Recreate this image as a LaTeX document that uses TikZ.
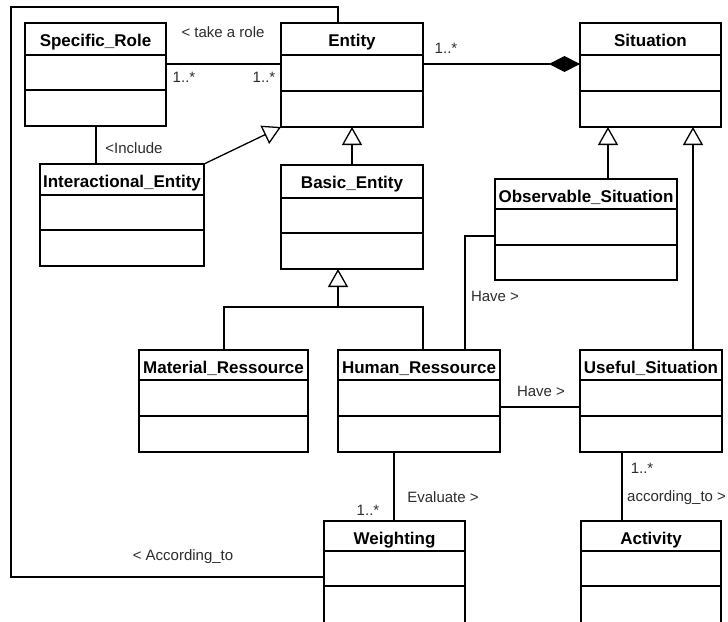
\documentclass[tikz,border=0pt]{standalone}
\usepackage{fontspec}
\setmainfont{Liberation Sans}
\usetikzlibrary{arrows.meta}
\definecolor{lblgray}{RGB}{45,45,45}
\tikzset{
  classbox/.style={draw=black, line width=1.4pt, fill=white, inner sep=0pt, outer sep=0pt},
  boxline/.style={draw=black, line width=1.4pt},
  clstitle/.style={inner sep=0pt, font=\bfseries\fontsize{17}{20}\selectfont, text=black},
  lbl/.style={inner sep=0pt, font=\fontsize{15}{18}\selectfont, text=lblgray},
  conn/.style={draw=black, line width=1.3pt},
  gen/.style={conn, -{Triangle[open, length=18pt, width=20pt, fill=white]}},
  comp/.style={conn, -{Diamond[length=31pt, width=16pt, fill=black]}},
}
\newcommand{\umlclass}[8]{%
  \node[classbox, minimum width={(#4-#2)*1pt}, minimum height={(#5-#3)*1pt}, anchor=north west] (#1) at (#2,#3) {};
  \draw[boxline] (#2,#6) -- (#4,#6) (#2,#7) -- (#4,#7);
  \node[clstitle, anchor=base] (#1-t) at ({(#2+#4)/2},{#3+23}) {#8};
}
\begin{document}
\begin{tikzpicture}[x=1pt,y=-1pt]
\useasboundingbox (0,0) rectangle (728,621);
\fill[white] (0,0) rectangle (728,621);

% frame connector (drawn first)
\draw[conn] (338,23) -- (338,7) -- (11,7) -- (11,577) -- (324,577);

\umlclass{sr}{25}{23}{166}{126}{55}{90}{Specific\_Role}
\umlclass{ent}{281}{23}{423}{127}{55}{91}{Entity}
\umlclass{sit}{580}{23}{721}{127}{55}{91}{Situation}
\umlclass{ie}{40}{164}{204}{266}{195}{230}{Interactional\_Entity}
\umlclass{be}{281}{165}{423}{269}{198}{233}{Basic\_Entity}
\umlclass{os}{495}{179}{677}{280}{209}{245}{Observable\_Situation}
\umlclass{mr}{139}{350}{308}{452}{380}{416}{Material\_Ressource}
\umlclass{hr}{338}{350}{500}{452}{380}{416}{Human\_Ressource}
\umlclass{us}{580}{350}{722}{452}{380}{416}{Useful\_Situation}
\umlclass{w}{324}{521}{465}{626}{551}{586}{Weighting}
\umlclass{act}{581}{521}{721}{626}{551}{586}{Activity}

\coordinate (fr) at (338,7);

% take a role
\draw[conn] (sr.east |- 0,64) -- (ent.west |- 0,64);
\node[lbl, anchor=base] (l1) at (223,37) {< take a role};
\node[lbl, anchor=base] (m1) at (184,82) {1..*};
\node[lbl, anchor=base] (m2) at (264,82) {1..*};

% composition
\draw[comp] (ent.east |- 0,64) -- (sit.west |- 0,64);
\node[lbl, anchor=base] (m3) at (446,53) {1..*};

% include
\draw[conn] (sr.south -| 96,0) -- (ie.north -| 96,0);
\node[lbl, anchor=base] (l2) at (134,153) {<Include};

% generalizations
\draw[gen] (ie.north east) -- (ent.south west);
\draw[gen] (be.north) -- (ent.south);
\draw[gen] (os.north -| 608,0) -- (sit.south -| 608,0);
\draw[gen] (us.north -| 693,0) -- (sit.south -| 693,0);
\coordinate (j) at (338,307);
\draw[conn] (mr.north -| 224,0) -- (224,307) -- (423,307) -- (hr.north -| 423,0);
\draw[gen] (j) -- (be.south -| 338,0);

% have (observable)
\draw[conn] (os.west |- 0,236) -- (465,236) -- (hr.north -| 465,0);
\node[lbl, anchor=base] (l3) at (495,301) {Have >};

% have (useful)
\draw[conn] (hr.east |- 0,407) -- (us.west |- 0,407);
\node[lbl, anchor=base] (l4) at (541,396) {Have >};

% evaluate
\draw[conn] (hr.south -| 394,0) -- (w.north -| 394,0);
\node[lbl, anchor=base] (l5) at (443,502) {Evaluate >};
\node[lbl, anchor=base] (m4) at (368,515) {1..*};

% according_to
\draw[conn] (us.south -| 622,0) -- (act.north -| 622,0);
\node[lbl, anchor=base] (m5) at (642,473) {1..*};
\node[lbl, anchor=base west] (l6) at (627,501) {according\_to >};

% frame label
\node[lbl, anchor=base] (l7) at (183,560) {< According\_to};
\end{tikzpicture}
\end{document}
